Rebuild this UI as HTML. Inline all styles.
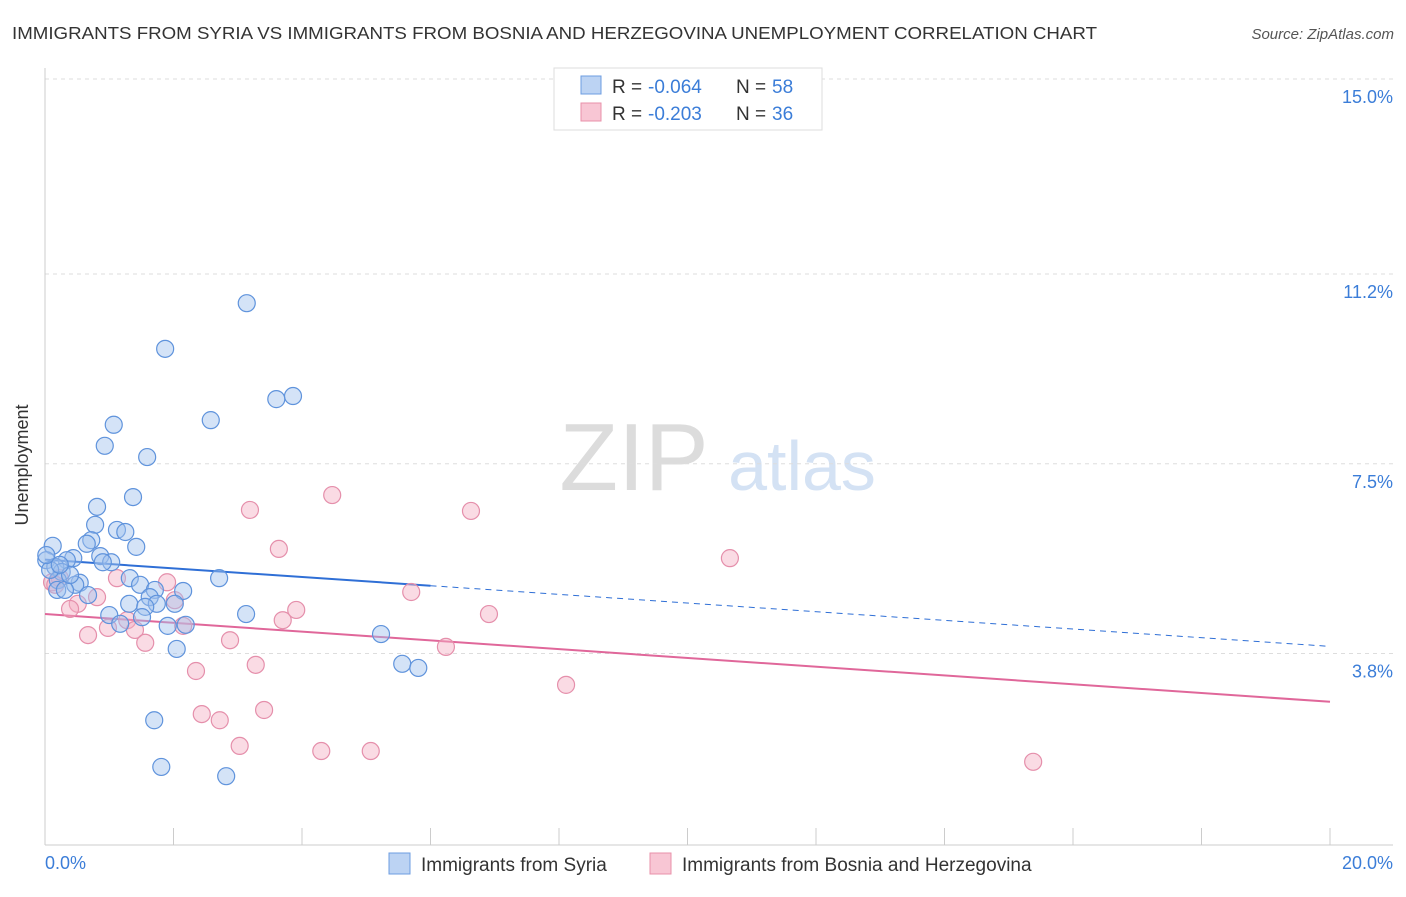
<!DOCTYPE html>
<html><head><meta charset="utf-8"><style>
body{margin:0;background:#fff;font-family:"Liberation Sans",sans-serif;}
svg text{font-family:"Liberation Sans",sans-serif;}
</style></head><body>
<svg width="1406" height="892" viewBox="0 0 1406 892" xmlns="http://www.w3.org/2000/svg">
<text x="12" y="39" font-size="17.5" fill="#333" textLength="1085" lengthAdjust="spacingAndGlyphs">IMMIGRANTS FROM SYRIA VS IMMIGRANTS FROM BOSNIA AND HERZEGOVINA UNEMPLOYMENT CORRELATION CHART</text>
<text x="1394" y="39" font-size="15" fill="#555" font-style="italic" text-anchor="end">Source: ZipAtlas.com</text>
<g>
<text x="634" y="490" font-size="96" font-family="Liberation Serif" fill="#dcdcdc" text-anchor="middle">ZIP</text>
<text x="802" y="490" font-size="70" fill="#d4e2f4" text-anchor="middle">atlas</text>
</g>
<g id="grid"></g>
<g id="axes"></g>
<g id="lines"></g>
<g id="pts"></g>
<text x="20" y="457" font-size="18" fill="#333" text-anchor="middle" transform="rotate(-90 28 457)">Unemployment</text>
<text x="45" y="869" font-size="18" fill="#3b7dd8">0.0%</text>
<text x="1393" y="869" font-size="18" fill="#3b7dd8" text-anchor="end">20.0%</text>
<g>
<rect x="554" y="68" width="268" height="62" fill="#fff" stroke="#ddd"/>
<rect x="581" y="76" width="20" height="18" fill="#bcd3f3" stroke="#6d9de0"/>
<rect x="581" y="103" width="20" height="18" fill="#f8c6d4" stroke="#e890aa"/>
<text x="612" y="93" font-size="19" fill="#333">R =</text>
<text x="648" y="93" font-size="19" fill="#3b7dd8">-0.064</text>
<text x="736" y="93" font-size="19" fill="#333">N =</text>
<text x="772" y="93" font-size="19" fill="#3b7dd8">58</text>
<text x="612" y="120" font-size="19" fill="#333">R =</text>
<text x="648" y="120" font-size="19" fill="#3b7dd8">-0.203</text>
<text x="736" y="120" font-size="19" fill="#333">N =</text>
<text x="772" y="120" font-size="19" fill="#3b7dd8">36</text>
</g>
<g>
<rect x="389" y="853" width="21" height="21" fill="#bcd3f3" stroke="#6d9de0"/>
<text x="421" y="871" font-size="19" fill="#333">Immigrants from Syria</text>
<rect x="650" y="853" width="21" height="21" fill="#f8c6d4" stroke="#e890aa"/>
<text x="682" y="871" font-size="19" fill="#333">Immigrants from Bosnia and Herzegovina</text>
</g>
</svg>
<script>
const yTicks=[15.0,11.2,7.5,3.8];
const yTickLabels=["15.0%","11.2%","7.5%","3.8%"];
const xTicks=[0,2,4,6,8,10,12,14,16,18,20];
const syriaX=[3.14,1.87,3.86,3.60,2.58,1.07,0.93,1.59,1.37,0.81,0.78,1.12,1.25,1.42,0.72,0.65,0.12,0.86,0.44,0.34,1.03,0.90,0.02,0.16,0.26,0.20,0.54,0.47,1.32,2.71,0.19,0.67,1.48,1.71,2.15,1.63,1.31,1.74,2.02,1.56,1.00,3.13,1.51,1.91,1.17,2.19,5.23,2.05,5.56,5.81,1.70,1.81,2.82,0.08,0.31,0.02,0.39,0.23];
const syriaY=[10.63,9.74,8.82,8.76,8.35,8.26,7.85,7.63,6.85,6.66,6.31,6.21,6.17,5.88,6.01,5.94,5.90,5.70,5.66,5.62,5.58,5.58,5.62,5.49,5.39,5.23,5.18,5.14,5.27,5.27,5.04,4.94,5.14,5.04,5.02,4.90,4.77,4.77,4.77,4.71,4.55,4.57,4.51,4.34,4.38,4.36,4.18,3.89,3.60,3.52,2.50,1.59,1.41,5.43,5.04,5.72,5.33,5.53];
const bosniaX=[4.47,3.19,6.63,3.64,10.66,1.12,1.90,0.11,0.23,5.70,0.81,0.51,0.39,3.91,6.91,3.70,1.28,0.98,2.15,1.40,0.67,2.88,1.56,6.24,3.28,2.35,8.11,3.41,2.44,2.72,3.03,4.30,5.07,15.38,0.16,2.02];
const bosniaY=[6.89,6.60,6.58,5.84,5.66,5.27,5.19,5.19,5.27,5.00,4.90,4.77,4.67,4.65,4.57,4.45,4.45,4.30,4.34,4.26,4.16,4.06,4.01,3.93,3.58,3.46,3.19,2.70,2.62,2.50,2.00,1.90,1.90,1.69,5.14,4.84];
const syriaTrend=[5.63,-0.0845];
const syriaSolidEnd=6.0;
const bosniaTrend=[4.57,-0.0855];
const NS="http://www.w3.org/2000/svg";
const X0=45,X1=1330,XMAX=20;
const xs=v=>X0+(v/XMAX)*(X1-X0);
const ys=v=>79+(15-v)*51.3;
function mk(t,a,p){const e=document.createElementNS(NS,t);for(const k in a)e.setAttribute(k,a[k]);p.appendChild(e);return e;}
const grid=document.getElementById('grid'),axes=document.getElementById('axes'),lines=document.getElementById('lines'),pts=document.getElementById('pts');
yTicks.forEach((v,i)=>{
 const l=mk('line',{x1:45,x2:1393,y1:ys(v),y2:ys(v),stroke:'#ddd','stroke-dasharray':'4,4'},grid);
 
 
 const t=mk('text',{x:1393,y:ys(v)+24,'font-size':18,fill:'#3b7dd8','text-anchor':'end'},grid);
 t.textContent=yTickLabels[i];
 
 
});
const ax=mk('line',{x1:45,x2:1393,y1:845,y2:845,stroke:'#ccc'},axes);


const ay=mk('line',{x1:45,x2:45,y1:68,y2:845,stroke:'#ccc'},axes);


xTicks.forEach(v=>{
 const t=mk('line',{x1:xs(v),x2:xs(v),y1:828,y2:845,stroke:'#ccc'},axes);
 
 
});
function pt(x,y,fill,stroke,name){
 const c=mk('circle',{cx:xs(x),cy:ys(y),r:8.5,fill:fill,'fill-opacity':0.45,stroke:stroke,'stroke-width':1.2},pts);
 
 
}
bosniaX.forEach((x,i)=>pt(x,bosniaY[i],'#f4b0c4','#e58fab','bosnia-point'));
syriaX.forEach((x,i)=>pt(x,syriaY[i],'#9fc0ee','#5f93dc','syria-point'));
const f=(tr,x)=>tr[0]+tr[1]*x;
const s1=mk('line',{x1:xs(0),y1:ys(f(syriaTrend,0)),x2:xs(syriaSolidEnd),y2:ys(f(syriaTrend,syriaSolidEnd)),stroke:'#2f6fd6','stroke-width':2},lines);


const s2=mk('line',{x1:xs(syriaSolidEnd),y1:ys(f(syriaTrend,syriaSolidEnd)),x2:xs(20),y2:ys(f(syriaTrend,20)),stroke:'#2f6fd6','stroke-width':1,'stroke-dasharray':'6,5'},lines);


const b1=mk('line',{x1:xs(0),y1:ys(f(bosniaTrend,0)),x2:xs(20),y2:ys(f(bosniaTrend,20)),stroke:'#e0679a','stroke-width':2},lines);


</script>
</body></html>
